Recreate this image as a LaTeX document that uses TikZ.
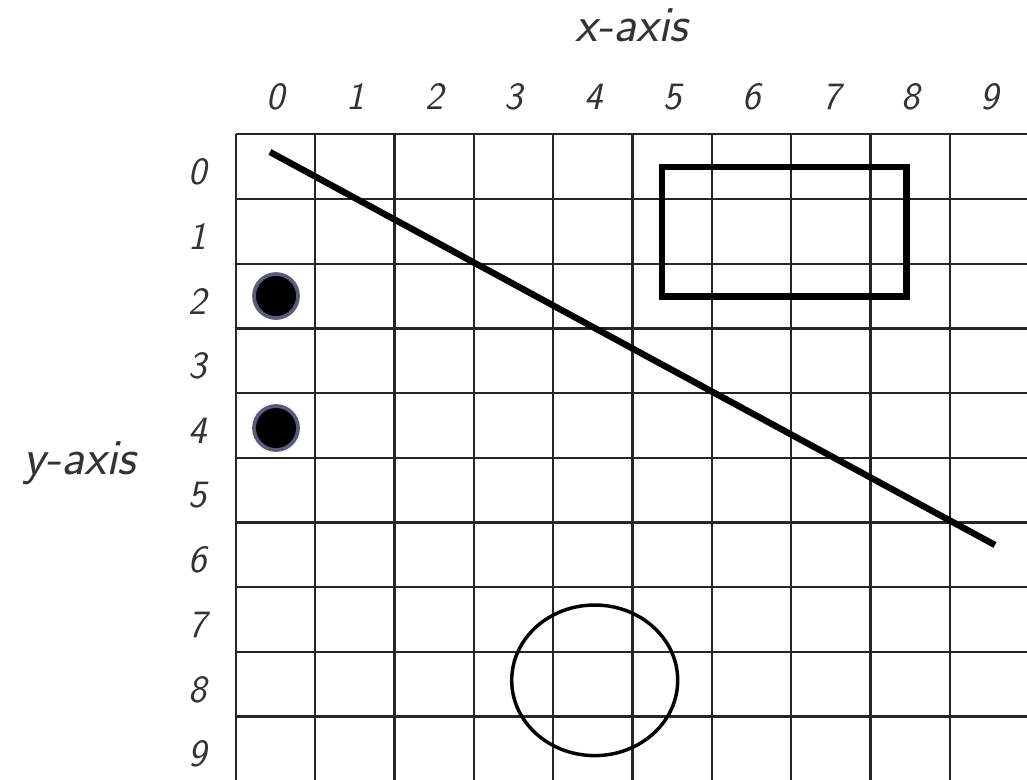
\documentclass[tikz,border=0pt]{standalone}
\usetikzlibrary{positioning}
\definecolor{dotrim}{RGB}{88,92,122}
\begin{document}
\begin{tikzpicture}[
  x=0.75pt, y=-0.75pt,
  gridline/.style={draw=black!85, line width=1.7pt},
  lbl/.style={font=\fontsize{29}{32}\selectfont\sffamily\itshape, text=black!80},
  title/.style={lbl, font=\fontsize{38}{42}\selectfont\sffamily\itshape},
  dot/.style={circle, fill=black, draw=dotrim, line width=2.8pt, minimum size=33pt, inner sep=0pt}
]
\useasboundingbox (0,0) rectangle (1027,779);
\clip (0,0) rectangle (1027,779);
% grid
\foreach \i in {0,...,10}
  \draw[gridline] ({236+79.3*\i},134.3) -- ({236+79.3*\i},790);
\foreach \j in {0,...,10}
  \draw[gridline] (236,{134.3+64.7*\j}) -- (1040,{134.3+64.7*\j});
% axis labels
\foreach \i in {0,...,9}
  \node[lbl] (xl\i) at ({276+79.3*\i},97) {\i};
\foreach \j in {0,...,9}
  \node[lbl] (yl\j) at (198,{172+64.7*\j}) {\j};
\node[title] (xaxis) at (632,25) {x-axis};
\node[title] (yaxis) at (80,463) {y-axis};
% shapes
\coordinate (lineA) at (270,152);
\coordinate (lineB) at (995,545);
\draw[line width=4.8pt] (lineA) -- (lineB);
\draw[line width=5pt] (662,167) rectangle (906.5,296.5);
\draw[line width=2.6pt] (594.7,680.3) ellipse [x radius=83, y radius=75.3];
\node[dot] (dotA) at (276,296) {};
\node[dot] (dotB) at (276,428) {};
\end{tikzpicture}
\end{document}
